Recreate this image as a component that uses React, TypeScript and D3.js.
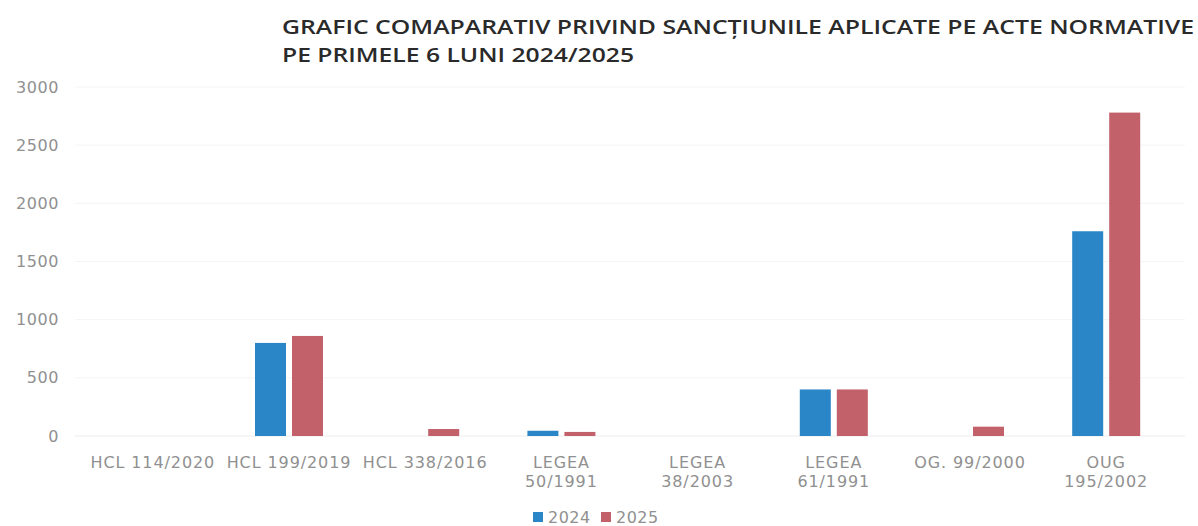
import React from "react";
import * as d3 from "d3";

const categories = [
  ["HCL 114/2020"],
  ["HCL 199/2019"],
  ["HCL 338/2016"],
  ["LEGEA", "50/1991"],
  ["LEGEA", "38/2003"],
  ["LEGEA", "61/1991"],
  ["OG. 99/2000"],
  ["OUG", "195/2002"],
];
const values2024 = [0, 800, 0, 45, 0, 400, 0, 1760];
const values2025 = [0, 860, 60, 35, 0, 400, 80, 2780];
const seriesNames = ["2024", "2025"];
const yTicks = [0, 500, 1000, 1500, 2000, 2500, 3000];
const colors = ["#2b86c8", "#c3616b"];

const W = 1198;
const H = 526;

export default function App() {
  const x = d3
    .scaleBand<number>()
    .domain(d3.range(categories.length))
    .range([84.7, 1174.3]);
  const y = d3.scaleLinear().domain([0, 3000]).range([436, 87]);
  const barW = 31;
  const gap = 6;
  const series = [values2024, values2025];
  const titleFont = "'Open Sans', 'Liberation Sans', sans-serif";
  const font = "'DejaVu Sans', sans-serif";

  return (
    <svg
      width={W}
      height={H}
      style={{ position: "absolute", left: 0, top: 0, background: "#fff" }}
    >
      <rect width={W} height={H} fill="#fff" />
      <g
        fontFamily={titleFont}
        fontWeight={600}
        fill="#2a2a2a"
        fontSize={19}
        style={{ whiteSpace: "pre" }}
      >
        <text x={282} y={34} textLength={912} lengthAdjust="spacingAndGlyphs">
          {"GRAFIC COMAPARATIV  PRIVIND SANCȚIUNILE APLICATE PE ACTE NORMATIVE"}
        </text>
        <text x={282} y={62} textLength={352} lengthAdjust="spacingAndGlyphs">
          PE PRIMELE 6 LUNI 2024/2025
        </text>
      </g>
      {yTicks.map((t) => (
        <g key={t}>
          <line
            x1={75}
            x2={1185}
            y1={y(t)}
            y2={y(t)}
            stroke={t === 0 ? "#ececec" : "#f4f4f4"}
            strokeWidth={1}
          />
          <text
            x={59}
            y={y(t)}
            dy="0.35em"
            textAnchor="end"
            fontFamily={font}
            fontSize={16}
            letterSpacing={0.6}
            fill="#909090"
          >
            {t}
          </text>
        </g>
      ))}
      {series.map((vals, si) =>
        vals.map((v, i) => {
          const c = (x(i) as number) + x.bandwidth() / 2;
          const bx = si === 0 ? c - gap / 2 - barW : c + gap / 2;
          return v > 0 ? (
            <rect
              key={`${si}-${i}`}
              x={bx}
              y={y(v)}
              width={barW}
              height={y(0) - y(v)}
              fill={colors[si]}
            />
          ) : null;
        })
      )}
      {categories.map((lines, i) => {
        const c = (x(i) as number) + x.bandwidth() / 2;
        return (
          <text
            key={i}
            x={c}
            y={468}
            textAnchor="middle"
            fontFamily={font}
            fontSize={16}
            letterSpacing={0.9}
            fill="#909090"
          >
            {lines.map((l, j) => (
              <tspan key={j} x={c} dy={j === 0 ? 0 : 19}>
                {l}
              </tspan>
            ))}
          </text>
        );
      })}
      {seriesNames.map((s, i) => (
        <g key={s} transform={`translate(${533 + i * 68},${512})`}>
          <rect width={10} height={10} fill={colors[i]} />
          <text
            x={15}
            y={5}
            dy="0.35em"
            fontFamily={font}
            fontSize={16}
            letterSpacing={0.5}
            fill="#909090"
          >
            {s}
          </text>
        </g>
      ))}
    </svg>
  );
}
